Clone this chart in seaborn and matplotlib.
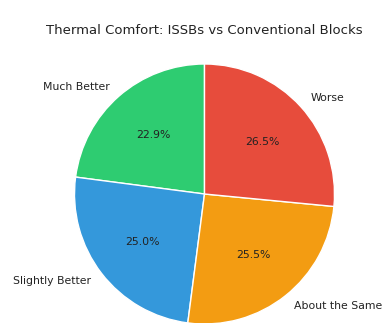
import matplotlib
matplotlib.use("Agg")
import matplotlib.pyplot as plt
import seaborn as sns

sns.set_style("white")

categories = ["Much Better", "Slightly Better", "About the Same", "Worse"]
shares = [22.9, 25.0, 25.5, 26.5]
colors = ["#2ecc71", "#3498db", "#f39c12", "#e74c3c"]

W, H = 386, 323
fig = plt.figure(figsize=(W / 100, H / 100), dpi=100)
ax = fig.add_axes([0, 0, 1, 1])

ax.pie(shares, labels=categories, colors=colors, autopct="%1.1f%%",
       startangle=90, textprops={"fontsize": 7.8, "color": "#222222"})

# place the pie: centre (204.5, 194) px from top, radius 130 px
cx, cy, r, half = 204.5, 194, 130, 1.4
size = 2 * half * r
ax.set_xlim(-half, half)
ax.set_ylim(-half, half)
ax.set_position([(cx - size / 2) / W, ((H - cy) - size / 2) / H, size / W, size / H])

fig.text(204 / W, 1 - 30 / H, "Thermal Comfort: ISSBs vs Conventional Blocks",
         ha="center", va="center", fontsize=9.5, color="#222222")

fig.savefig("out.png", dpi=100)
